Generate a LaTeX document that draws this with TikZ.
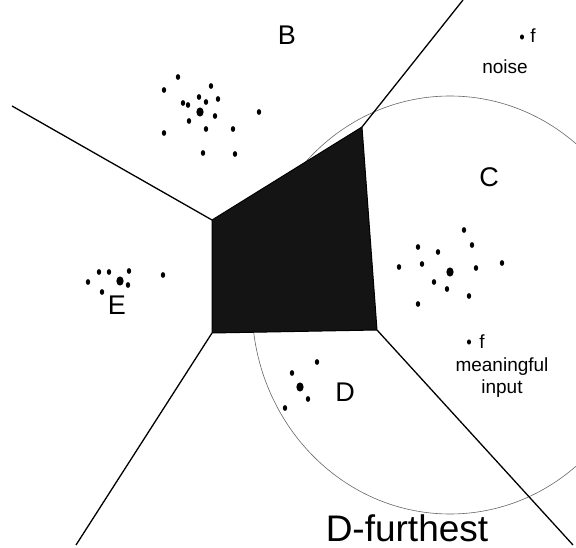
\documentclass[tikz,border=0pt]{standalone}
\usepackage{fontspec}
\setmainfont{Liberation Sans}
\begin{document}
\begin{tikzpicture}[
x=1pt,y=-1pt,
cell/.style={line width=1.3pt},
region/.style={fill=black!92,draw=black,line width=1pt},
sphere/.style={draw=black!60,line width=0.6pt},
label/.style={inner sep=0pt,font=\fontsize{27}{27}\selectfont},
note/.style={inner sep=0pt,font=\fontsize{19}{22}\selectfont}
]
\useasboundingbox (0,0) rectangle (576,548);
\coordinate (v1) at (212,220);
\coordinate (v2) at (362,127);
\coordinate (v3) at (377,330);
\coordinate (v4) at (212,333);
\coordinate (w1) at (12,106);
\coordinate (w2) at (463,0);
\coordinate (w3) at (573,545);
\coordinate (w4) at (76,545);
\draw[sphere] (450,305) ellipse [x radius=198, y radius=209];
\fill[region] (v1) -- (v2) -- (v3) -- (v4) -- cycle;
\draw[cell] (w1) -- (v1);
\draw[cell] (v2) -- (w2);
\draw[cell] (v3) -- (w3);
\draw[cell] (v4) -- (w4);
% clusters
\foreach \x/\y in {178/77,164/90,211/86,199/97,218/99,183/103,188/105,206/102,215/116,259/112,189/121,164/133,206/129,233/129,203/153,235/154,
  464/230,472/245,418/247,438/252,399/267,422/264,476/268,502/263,434/282,447/289,469/296,418/304,
  88/282,99/272,109/272,129/271,128/285,102/292,163/275,
  317/362,292/373,308/399,285/408}
  \fill (\x,\y) ellipse [x radius=2.2, y radius=2.9];
\foreach \x/\y in {200/112,450/272,120/281,300/387}
  \fill (\x,\y) ellipse [x radius=3.6, y radius=4.6];
\node[label] (b) at (287,35) {B};
\node[label] (c) at (489,177) {C};
\node[label] (e) at (117,305) {E};
\node[label] (d) at (345,392) {D};
\node[inner sep=0pt,font=\fontsize{37}{37}\selectfont] (far) at (407,528) {D-furthest};
\fill (522,37) ellipse [x radius=2, y radius=2.6];
\node[note] (f1) at (533,36) {f};
\node[note] (noise) at (505,67) {noise};
\fill (469,342) ellipse [x radius=2, y radius=2.6];
\node[note] (f2) at (482,342) {f};
\node[note,align=center] (input) at (502,378) {meaningful\\input};
\end{tikzpicture}
\end{document}
